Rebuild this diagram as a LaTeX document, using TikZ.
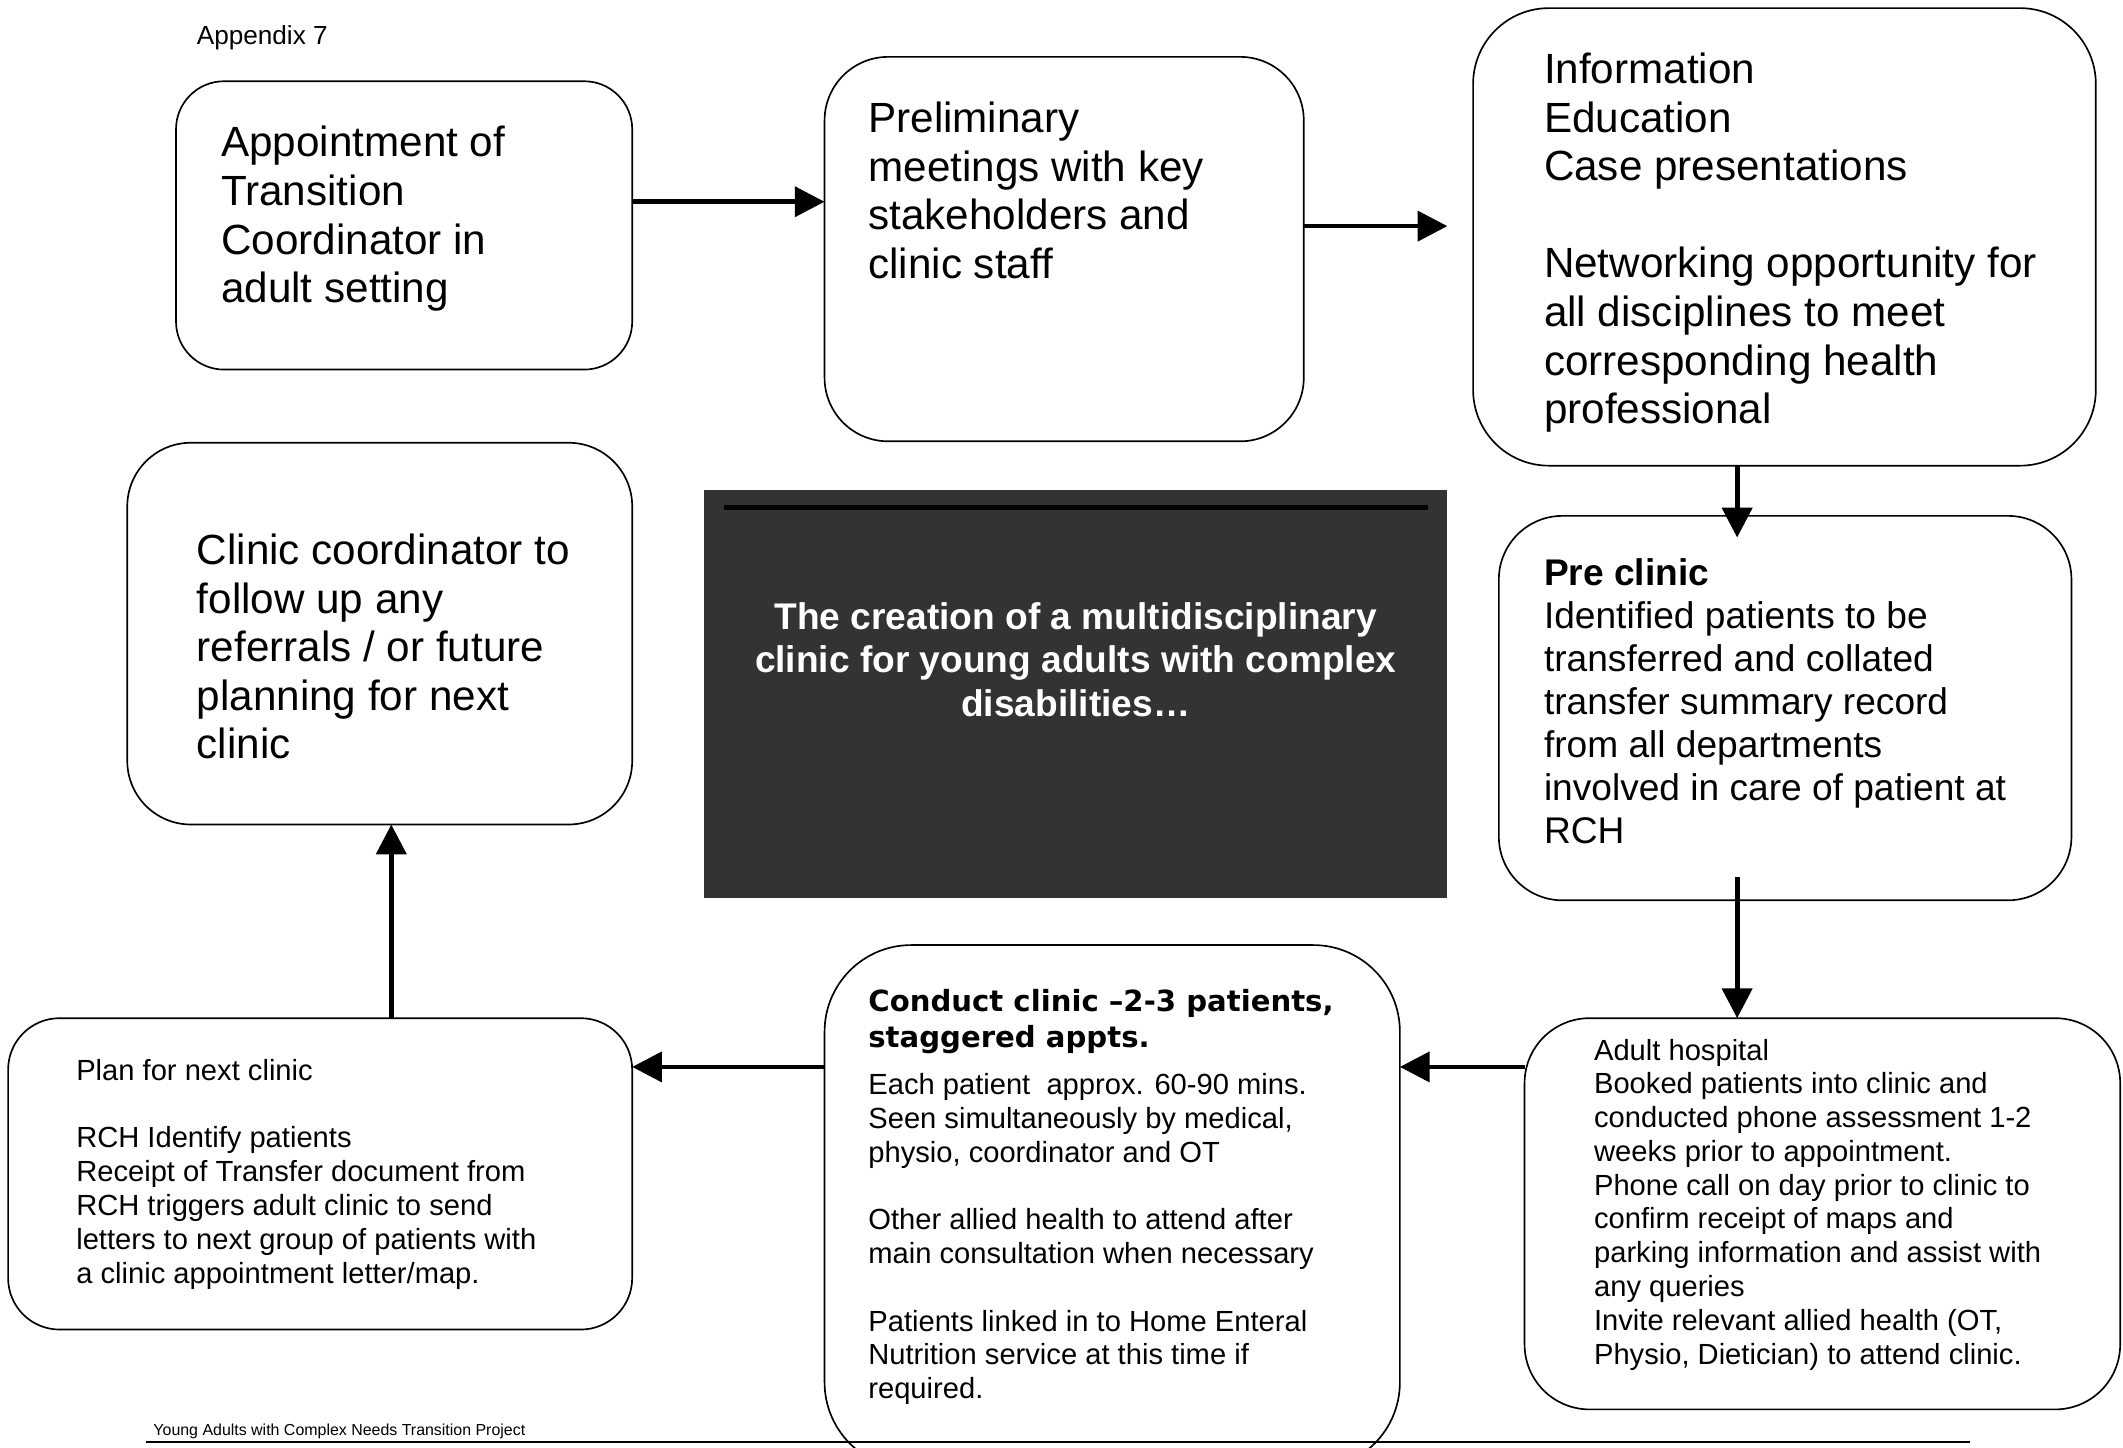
\documentclass[tikz,border=0pt]{standalone}
\usepackage{fontspec}
\setmainfont{Liberation Sans}
\newfontfamily\headfont{DejaVu Sans}
\definecolor{SlideGrey}{HTML}{333333}
\usetikzlibrary{positioning, arrows.meta, calc}

\begin{document}
\begin{tikzpicture}[x=0.02cm, y=-0.02cm,
  stepbox/.style={draw=black, line width=0.7pt, fill=white, rounded corners=#1,
                  inner sep=0pt, outer sep=0pt, anchor=north west},
  bigtxt/.style={anchor=north west, inner sep=0pt, align=left,
                 font=\fontsize{17.75}{20.4}\selectfont},
  midtxt/.style={anchor=north west, inner sep=0pt, align=left,
                 font=\fontsize{15.6}{18.1}\selectfont},
  smalltxt/.style={anchor=north west, inner sep=0pt, align=left,
                   font=\fontsize{12.25}{14.2}\selectfont},
  flow/.style={line width=2pt, -{Triangle[length=0.44cm, width=0.44cm]}},
]
  \clip (0,0) rectangle (1568,1069);

  \node[anchor=base west, inner sep=0pt, font=\fontsize{11}{13}\selectfont] (appx) at (145,33) {Appendix 7};

  % top row
  \node[stepbox=0.71cm, minimum width=6.74cm, minimum height=4.26cm] (appoint) at (130,60) {};
  \node[bigtxt] (appointtxt) at (163,93)
    {Appointment of\\Transition\\Coordinator in\\adult setting};
  \node[stepbox=0.94cm, minimum width=7.08cm, minimum height=5.68cm] (prelim) at (609,42) {};
  \node[bigtxt] (prelimtxt) at (641,75)
    {Preliminary\\meetings with key\\stakeholders and\\clinic staff};
  \node[stepbox=1.12cm, minimum width=9.20cm, minimum height=6.76cm] (info) at (1088,6) {};
  \node[bigtxt] (infotxt) at (1140,39)
    {Information\\Education\\Case presentations\\[20.4pt]
     Networking opportunity for\\all disciplines to meet\\corresponding health\\professional};

  % middle row
  \node[stepbox=0.94cm, minimum width=7.46cm, minimum height=5.64cm] (clinco) at (94,327) {};
  \node[bigtxt] (clincotxt) at (145,394)
    {Clinic coordinator to\\follow up any\\referrals / or future\\planning for next\\clinic};
  \node[fill=SlideGrey, inner sep=0pt, outer sep=0pt, anchor=north west,
        minimum width=10.98cm, minimum height=6.02cm] (theme) at (520,362) {};
  \draw[line width=2.3pt] ($(theme.north west)+(15,13)$) -- ($(theme.north east)+(-14,13)$);
  \node[anchor=north, inner sep=0pt, align=center, text=white,
        font=\fontsize{15.6}{18.1}\selectfont\bfseries] (themetxt) at ($(theme.north)+(0,83)$)
    {The creation of a multidisciplinary\\clinic for young adults with complex\\disabilities…};
  \node[stepbox=0.94cm, minimum width=8.46cm, minimum height=5.68cm] (precl) at (1107,381) {};
  \node[midtxt] (precltxt) at (1140,412)
    {\textbf{Pre clinic}\\Identified patients to be\\transferred and collated\\transfer summary record\\
     from all departments\\involved in care of patient at\\RCH};

  % bottom row
  \node[stepbox=0.76cm, minimum width=9.22cm, minimum height=4.60cm] (plan) at (6,752) {};
  \node[smalltxt] (plantxt) at (56,782)
    {Plan for next clinic\\[14.2pt]RCH Identify patients\\Receipt of Transfer document from\\
     RCH triggers adult clinic to send\\letters to next group of patients with\\a clinic appointment letter/map.};
  \node[stepbox=1.28cm, minimum width=8.50cm, minimum height=7.74cm] (conduct) at (609,698) {};
  \node[smalltxt] (conducttxt) at (641,730)
    {{\headfont\bfseries Conduct clinic –2-3 patients,}\\[1.1pt]{\headfont\bfseries staggered appts.}\\[5.7pt]
     Each patient\ \ approx. 60-90 mins.\\Seen simultaneously by medical,\\physio, coordinator and OT\\[14.2pt]
     Other allied health to attend after\\main consultation when necessary\\[14.2pt]
     Patients linked in to Home Enteral\\Nutrition service at this time if\\required.};
  \node[stepbox=0.96cm, minimum width=8.80cm, minimum height=5.78cm] (adult) at (1126,752) {};
  \node[smalltxt] (adulttxt) at (1177,767)
    {Adult hospital\\Booked patients into clinic and\\conducted phone assessment 1-2\\
     weeks prior to appointment.\\Phone call on day prior to clinic to\\confirm receipt of maps and\\
     parking information and assist with\\any queries\\Invite relevant allied health (OT,\\
     Physio, Dietician) to attend clinic.};

  % connectors
  \draw[flow] (appoint.east |- 0,149) -- (prelim.west |- 0,149);
  \draw[flow, shorten >=0.38cm] (prelim.east |- 0,167) -- (info.west |- 0,167);
  \draw[flow, shorten >=-0.32cm] (info.south -| 1283,0) -- (precl.north -| 1283,0);
  \draw[flow, shorten <=-0.34cm] (precl.south -| 1283,0) -- (adult.north -| 1283,0);
  \draw[flow] (adult.west |- 0,788) -- (conduct.east |- 0,788);
  \draw[flow] (conduct.west |- 0,788) -- (plan.east |- 0,788);
  \draw[flow] (plan.north -| 289,0) -- (clinco.south -| 289,0);

  % footer
  \node[anchor=base west, inner sep=0pt, font=\fontsize{6.7}{8}\selectfont] (footer) at (113,1060)
    {Young Adults with Complex Needs Transition Project};
  \draw[line width=0.8pt] (108,1065) -- (1455,1065);
\end{tikzpicture}
\end{document}
